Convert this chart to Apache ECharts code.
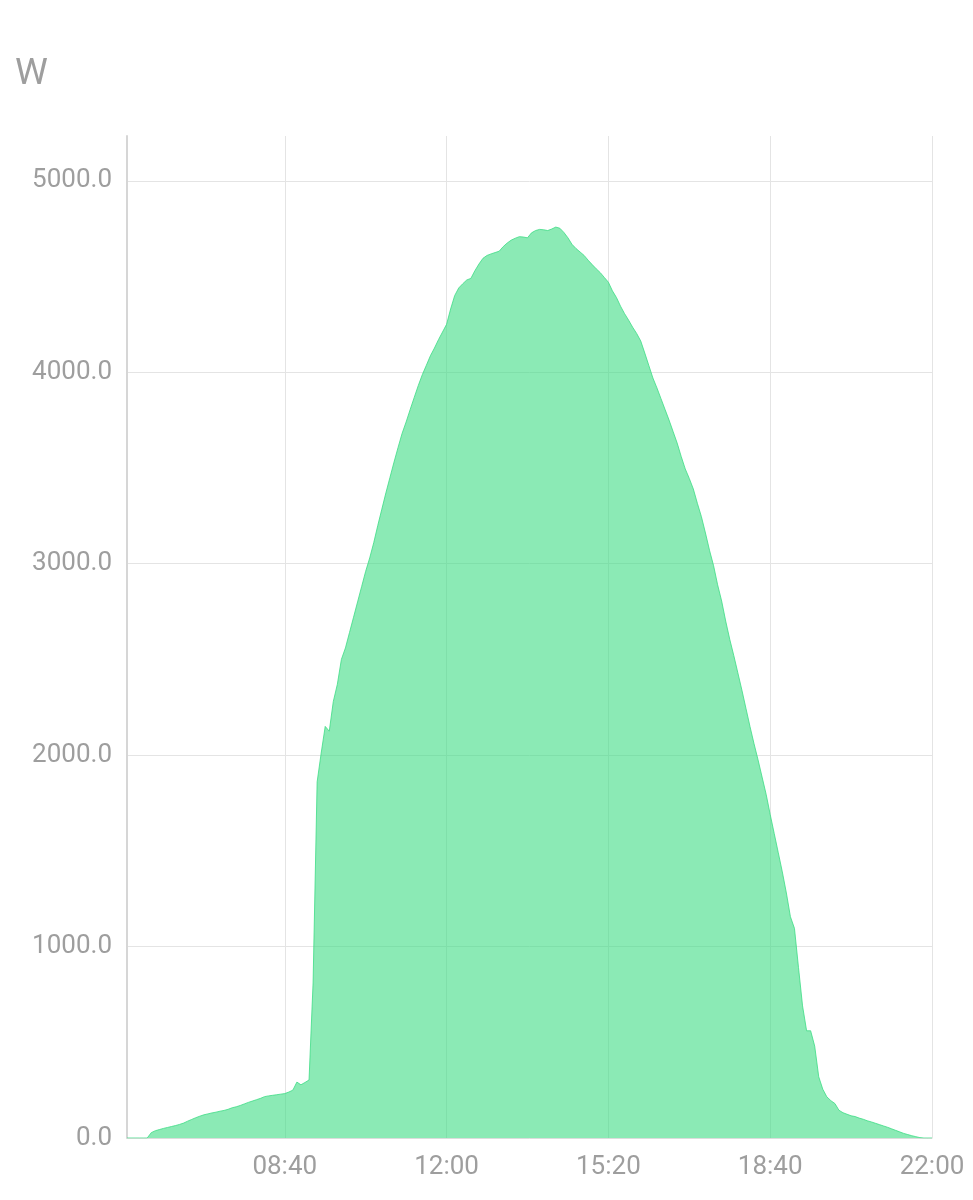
<!DOCTYPE html>
<html>
<head>
<meta charset="utf-8">
<script src="https://cdn.jsdelivr.net/npm/echarts@6/dist/echarts.min.js"></script>
<style>
html,body{margin:0;padding:0;background:#fff;}
#chart{width:973px;height:1200px;}
</style>
</head>
<body>
<div id="chart"></div>
<script>
// time categories: every 5 minutes from 05:25 to 22:00
const startMinute = 325;
const stepMinutes = 5;
const tickLabels = ['08:40', '12:00', '15:20', '18:40', '22:00'];
const unitName = 'W';

// power (W), one value per 5-minute slot starting 05:25
const powerEarly = [
  0, 0, 0, 0, 0, 0, 28, 38, 44, 50, 55, 60, 65, 71, 78, 88, 97, 106, 114, 121,
  126, 131, 135, 140, 144, 150, 158, 163, 170, 178, 186, 193, 200, 207, 216, 220,
  223, 226, 229, 232, 240, 250, 292, 278, 290, 303
];
const powerMorning = [
  810, 1860, 2010, 2150, 2125, 2280, 2370, 2500, 2560, 2640, 2720, 2800, 2880,
  2960, 3030, 3110, 3200, 3285, 3370, 3450, 3530, 3606, 3680, 3740, 3805, 3868,
  3930, 3987, 4036, 4086, 4126, 4170, 4210, 4250, 4330, 4400, 4440, 4462, 4482,
  4490, 4530, 4565, 4595, 4610, 4618, 4625, 4632, 4656, 4675, 4690, 4700, 4708,
  4706, 4702, 4728, 4740, 4746, 4744, 4740, 4748, 4758
];
const powerAfternoon = [
  4752, 4730, 4702, 4668, 4646, 4628, 4610, 4585, 4562, 4540, 4520, 4495, 4470,
  4425, 4390, 4345, 4306, 4272, 4235, 4202, 4163, 4100, 4035, 3970, 3918, 3862,
  3806, 3750, 3690, 3630, 3560, 3495, 3445, 3390, 3315, 3245, 3160, 3070, 2990,
  2890, 2805, 2700, 2605, 2520, 2430, 2340, 2245, 2150, 2060, 1975, 1885, 1795,
  1690, 1590, 1490, 1390, 1280, 1156, 1095, 890, 690, 560, 560, 480, 320
];
const powerEvening = [
  255, 215, 195, 180, 145, 132, 124, 116, 112, 104, 98, 90, 84, 77, 70, 63, 56,
  48, 40, 32, 24, 18, 12, 7, 2, 0, 0, 0
];
const power = [].concat(powerEarly, powerMorning, powerAfternoon, powerEvening);

const categories = [];
for (let i = 0; i < power.length; i++) {
  const m = startMinute + i * stepMinutes;
  const hh = String(Math.floor(m / 60)).padStart(2, '0');
  const mm = String(m % 60).padStart(2, '0');
  categories.push(hh + ':' + mm);
}

const isTick = (idx, val) => tickLabels.indexOf(categories[idx]) >= 0;

const chart = echarts.init(document.getElementById('chart'), null, {renderer: 'canvas'});
const labelColor = '#9e9e9e';
const gridColor = '#e4e4e4';
chart.setOption({
  animation: false,
  backgroundColor: '#ffffff',
  textStyle: {fontFamily: 'Roboto'},
  title: {
    text: unitName,
    left: 10,
    top: 51,
    textStyle: {fontFamily: 'Roboto', fontSize: 37, fontWeight: 'normal', color: labelColor}
  },
  grid: {left: 127, right: 41, top: 136, bottom: 62, containLabel: false},
  xAxis: {
    type: 'category',
    data: categories,
    boundaryGap: false,
    axisLine: {show: true, lineStyle: {color: '#dcdcdc', width: 1}},
    axisTick: {show: false},
    axisLabel: {
      interval: isTick,
      color: labelColor,
      fontFamily: 'Roboto',
      fontSize: 26,
      margin: 16
    },
    splitLine: {show: true, interval: isTick, lineStyle: {color: gridColor, width: 1}}
  },
  yAxis: {
    type: 'value',
    min: 0,
    max: v => v.max * 1.1,
    interval: 1000,
    axisLine: {show: true, lineStyle: {color: '#d6d6d6', width: 2}},
    axisTick: {show: false},
    axisLabel: {
      color: labelColor,
      fontFamily: 'Roboto',
      fontSize: 26,
      margin: 15,
      showMaxLabel: false,
      formatter: v => (v > 5000 ? '' : v.toFixed(1))
    },
    splitLine: {
      show: true,
      lineStyle: {
        color: [gridColor, gridColor, gridColor, gridColor, gridColor, gridColor, 'rgba(0,0,0,0)'],
        width: 1
      }
    }
  },
  series: [{
    type: 'line',
    data: power,
    symbol: 'none',
    smooth: false,
    sampling: 'none',
    lineStyle: {color: '#3ddc84', width: 1, opacity: 0.8},
    itemStyle: {color: '#3ddc84'},
    areaStyle: {color: '#3ddc84', opacity: 0.6}
  }]
});
</script>
</body>
</html>
